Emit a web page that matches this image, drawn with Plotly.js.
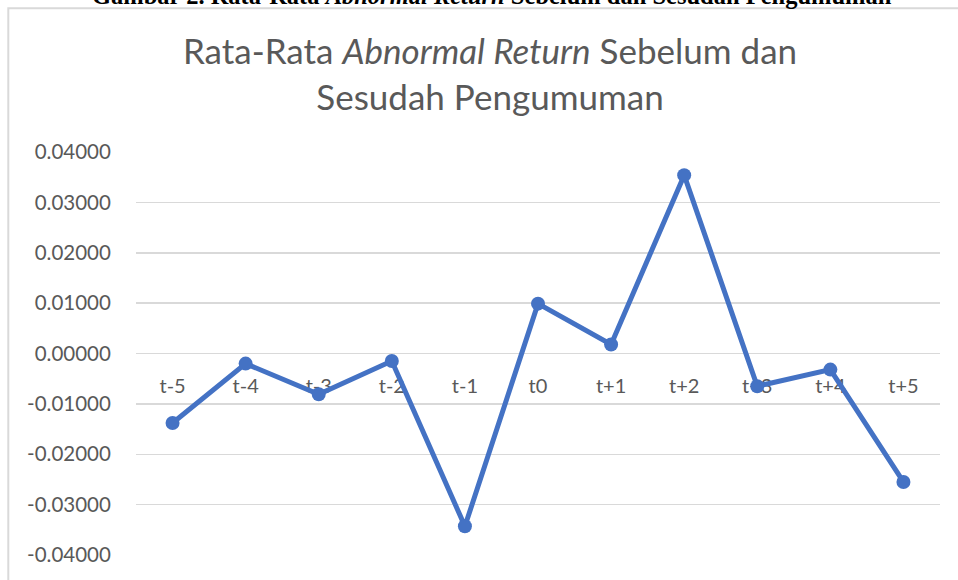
<!DOCTYPE html>
<html>
<head>
<meta charset="utf-8">
<script src="https://cdn.plot.ly/plotly-3.0.1.min.js"></script>
<style>html,body{margin:0;padding:0;background:#fff;}#chart{width:958px;height:580px;}</style>
</head>
<body>
<div id="chart"></div>
<script>
// Data
const categories = ["t-5","t-4","t-3","t-2","t-1","t0","t+1","t+2","t+3","t+4","t+5"];
const abnormalReturn = [-0.0138,-0.0020,-0.0081,-0.0015,-0.0343,0.0099,0.0018,0.0354,-0.0065,-0.0032,-0.0255];
const yTickVals = [0.04,0.03,0.02,0.01,0,-0.01,-0.02,-0.03,-0.04];
const yTickText = ["0.04000","0.03000","0.02000","0.01000","0.00000","-0.01000","-0.02000","-0.03000","-0.04000"];
const chartTitle = "Rata-Rata <i>Abnormal Return</i> Sebelum dan<br>Sesudah Pengumuman";
const captionText = "<b>Gambar 2. Rata-Rata <i>Abnormal Return</i> Sebelum dan Sesudah Pengumuman</b>";

const blue = "#4472C4";
const grid = "#d9d9d9";
const textGray = "#595959";
const font = "Lato, 'Open Sans', sans-serif";

const trace = {
  type: "scatter",
  mode: "lines+markers",
  x: categories,
  y: abnormalReturn,
  line: {color: blue, width: 5},
  marker: {color: blue, size: 14},
  cliponaxis: false,
  hoverinfo: "x+y"
};

const layout = {
  width: 958,
  height: 580,
  margin: {l: 136, r: 18, t: 152, b: 25},
  paper_bgcolor: "#fff",
  plot_bgcolor: "#fff",
  showlegend: false,
  font: {family: font, size: 20, color: textGray},
  title: {
    text: chartTitle,
    font: {family: font, size: 35, color: textGray},
    xref: "paper", x: 0.4403, xanchor: "center",
    yref: "container", y: 1 - 64/580, yanchor: "middle"
  },
  xaxis: {
    type: "category",
    range: [-0.5, 10.5],
    anchor: "free",
    position: 0.5,
    showgrid: false,
    zeroline: false,
    showline: false,
    ticks: "outside",
    ticklen: 14,
    tickcolor: "rgba(0,0,0,0)",
    tickfont: {family: font, size: 20, color: textGray},
    layer: "below traces",
    fixedrange: true
  },
  yaxis: {
    range: [-0.04, 0.04],
    tickmode: "array",
    tickvals: yTickVals,
    ticktext: yTickText,
    showgrid: true,
    gridcolor: grid,
    gridwidth: 1.5,
    zeroline: true,
    zerolinecolor: grid,
    zerolinewidth: 1.5,
    showline: false,
    ticks: "outside",
    ticklen: 20,
    tickcolor: "rgba(0,0,0,0)",
    tickfont: {family: font, size: 20.5, color: textGray},
    layer: "below traces",
    fixedrange: true
  },
  shapes: [{
    type: "rect", xref: "paper", yref: "paper",
    x0: (8.3-136)/804, x1: 1.2, y0: -0.3, y1: (555-8.3)/403,
    line: {color: grid, width: 2}, fillcolor: "rgba(0,0,0,0)", layer: "below"
  }],
  annotations: [{
    text: captionText,
    xref: "paper", yref: "paper",
    x: (491.5-136)/804, xanchor: "center",
    y: (555-11)/403, yanchor: "bottom",
    showarrow: false,
    font: {family: "'Liberation Serif', 'Times New Roman', serif", size: 24.5, color: "#000"}
  }]
};

Plotly.newPlot("chart", [trace], layout, {displayModeBar: false, staticPlot: true});
</script>
</body>
</html>
